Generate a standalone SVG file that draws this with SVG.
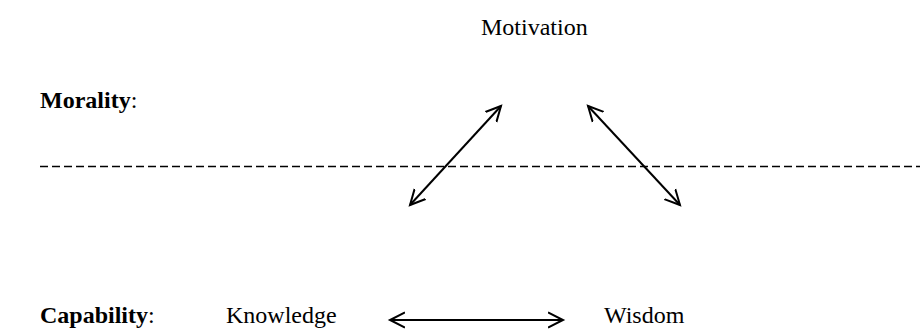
<svg xmlns="http://www.w3.org/2000/svg" width="920" height="330" viewBox="0 0 920 330">
<style>
text{font-family:"Liberation Serif","Times New Roman",serif;font-size:24px;fill:#000}
.b{font-weight:bold}
.c{stroke:#000;stroke-width:2;fill:none}
.d{stroke:#000;stroke-width:1.5;stroke-dasharray:8 4;fill:none}
</style>
<defs>
<marker id="ah" markerUnits="userSpaceOnUse" markerWidth="22" markerHeight="22" refX="15" refY="11" orient="auto-start-reverse" viewBox="0 0 22 22">
<polyline points="0,3.5 15,11 0,18.5" fill="none" stroke="#000" stroke-width="2"/>
</marker>
</defs>
<rect width="920" height="330" fill="#fff"/>
<g id="motivation"><text x="481" y="35">Motivation</text></g>
<g id="morality"><text x="40" y="108"><tspan class="b">Morality</tspan>:</text></g>
<g id="capability"><text x="40" y="323"><tspan class="b">Capability</tspan>:</text></g>
<g id="knowledge"><text x="226" y="323">Knowledge</text></g>
<g id="wisdom"><text x="604" y="323">Wisdom</text></g>
<g id="divider"><line class="d" x1="40" y1="166.5" x2="920" y2="166.5"/></g>
<g id="connectors">
<line class="c" x1="410" y1="205" x2="501" y2="106" marker-start="url(#ah)" marker-end="url(#ah)"/>
<line class="c" x1="588" y1="106" x2="680" y2="205" marker-start="url(#ah)" marker-end="url(#ah)"/>
<line class="c" x1="390" y1="320" x2="563" y2="320" marker-start="url(#ah)" marker-end="url(#ah)"/>
</g>
</svg>
